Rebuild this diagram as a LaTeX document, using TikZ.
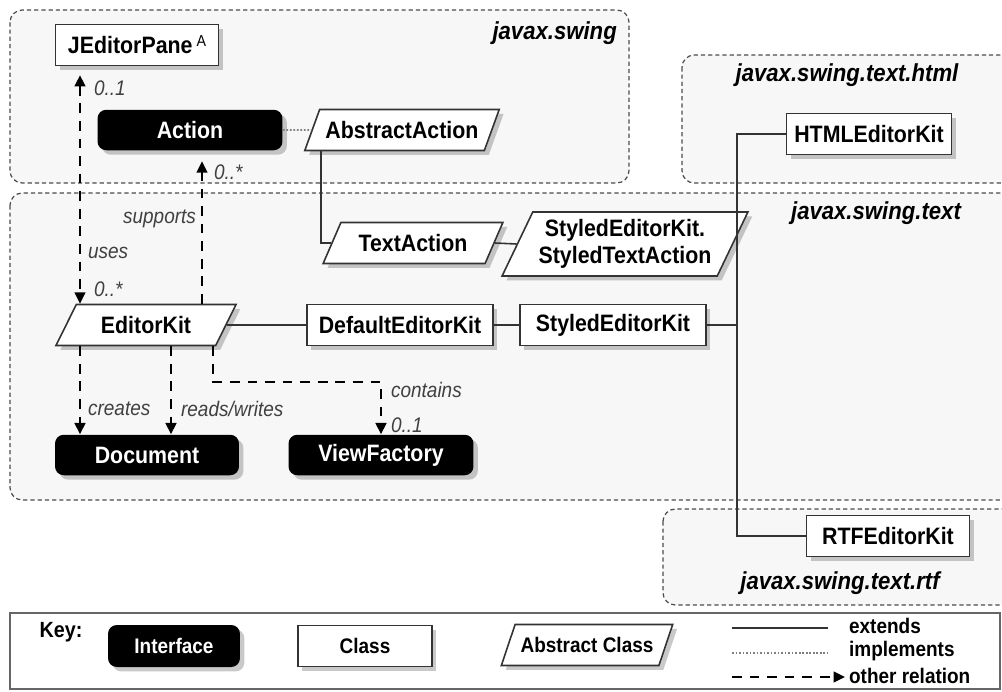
\documentclass[tikz,border=0pt]{standalone}
\usepackage{fontspec}
\setmainfont{Liberation Sans}[FakeStretch=0.9]
\usepackage{tikz}
\usetikzlibrary{
    shapes.geometric,
    arrows.meta,
    shadows
}
\tikzset{
    >={Triangle[length=6.5pt,width=6pt]},
    boxshadow/.style={
        drop shadow={shadow xshift=2.5pt, shadow yshift=-2.5pt,
                     opacity=0.3, fill=black!70}
    },
    iface/.style={
        rectangle, rounded corners=5pt, fill=black, text=white,
        font=\bfseries\fontsize{13.5}{15}\selectfont,
        minimum height=0.81cm, boxshadow
    },
    cls/.style={
        rectangle, draw=black!80, line width=0.9pt, fill=white,
        font=\bfseries\fontsize{13.5}{15}\selectfont,
        minimum height=0.82cm, boxshadow
    },
    abscls/.style={
        trapezium, trapezium left angle=63, trapezium right angle=117,
        trapezium stretches=true, draw=black!80, line width=0.9pt,
        fill=white, font=\bfseries\fontsize{13.5}{15}\selectfont,
        minimum height=0.82cm, align=center, boxshadow
    },
    pkg/.style={
        draw=black!70, line width=0.7pt, dash pattern=on 2.4pt off 1.7pt,
        fill=black!3, rounded corners=7pt
    },
    pkgname/.style={font=\bfseries\itshape\fontsize{14}{16}\selectfont},
    ext/.style={draw=black!80, line width=0.9pt},
    impl/.style={draw=black!50, line width=0.9pt, dash pattern=on 1pt off 1pt},
    rel/.style={draw=black, line width=1.4pt, dash pattern=on 5.5pt off 4.5pt},
    lbl/.style={font=\itshape\fontsize{12}{14}\selectfont, text=black!75, inner sep=1pt},
    keytext/.style={font=\bfseries\fontsize{12}{13}\selectfont, inner sep=1pt}
}

\begin{document}
\begin{tikzpicture}[
    x=0.02cm,
    y=-0.02cm
]

    \path[use as bounding box] (0,0) rectangle (1002,691);
    \clip (0,0) rectangle (1002,691);

    % Packages
    \draw[pkg] (10,10) rectangle (629,183);
    \draw[pkg] (682,55) rectangle (1030,183);
    \draw[pkg] (10,193) rectangle (1030,500);
    \draw[pkg] (663,509) rectangle (1030,605);

    \node[pkgname, anchor=east] (pswing) at (623,33)  {javax.swing};
    \node[pkgname]              (phtml)  at (847,75)  {javax.swing.text.html};
    \node[pkgname]              (ptext)  at (876,213) {javax.swing.text};
    \node[pkgname]              (prtf)   at (840,583) {javax.swing.text.rtf};

    % Classes
    \node[cls, minimum width=3.26cm]   (jep)  at (137,45)  {JEditorPane\,\raisebox{4pt}{\mdseries\fontsize{9}{9}\selectfont A}};
    \node[iface, minimum width=3.7cm]  (act)  at (190,130) {Action};
    \node[abscls, minimum width=3.62cm] (aa)  at (402,130) {AbstractAction};
    \node[cls, minimum width=3.3cm]    (html) at (869,134) {HTMLEditorKit};
    \node[abscls, minimum width=3.6cm] (ta)   at (413,243) {TextAction};
    \node[abscls, minimum width=4.28cm, minimum height=1.28cm]
                                       (sta)  at (625,244) {StyledEditorKit.\\StyledTextAction};
    \node[abscls, minimum width=3.62cm] (ek)  at (146,325) {EditorKit};
    \node[cls, minimum width=3.72cm]   (dek)  at (400,325) {DefaultEditorKit};
    \node[cls, minimum width=3.72cm]   (sek)  at (613,325) {StyledEditorKit};
    \node[iface, minimum width=3.68cm] (doc)  at (147,455) {Document};
    \node[iface, minimum width=3.7cm]  (vf)   at (381,455) {ViewFactory};
    \node[cls, minimum width=3.26cm]   (rtf)  at (888,536) {RTFEditorKit};

    % Inheritance
    \coordinate (ax) at (321,0);
    \coordinate (vx) at (737,0);
    \draw[impl] (act.east) -- (aa.west);
    \draw[ext] (aa.south -| ax) |- (ta.west);
    \draw[ext] (ta.east) -- (sta.west);
    \draw[ext] (ek.east) -- (dek.west);
    \draw[ext] (dek.east) -- (sek.west);
    \draw[ext] (sek.east) -- (sek.east -| vx);
    \draw[ext] (html.west) -- (html.west -| vx) -- (rtf.west -| vx) -- (rtf.west);

    % Other relations
    \coordinate (ux) at (80,0);
    \coordinate (sx) at (202,0);
    \coordinate (rx) at (171,0);
    \coordinate (cbend) at (213,382);
    \draw[rel, <->, shorten <=5pt] (jep.south -| ux) -- (ek.north -| ux);
    \draw[rel, ->, shorten >=6pt] (ek.north -| sx) -- (act.south -| sx);
    \draw[rel, ->] (ek.south -| ux) -- (doc.north -| ux);
    \draw[rel, ->] (ek.south -| rx) -- (doc.north -| rx);
    \draw[rel, ->] (ek.south -| cbend) -- (cbend) -| (vf.north);

    \node[lbl, anchor=west] (m1) at (92,88)  {0..1};
    \node[lbl, anchor=west] (m2) at (212,172) {0..*};
    \node[lbl, anchor=east] (l1) at (198,219) {supports};
    \node[lbl, anchor=west] (l2) at (86,253)  {uses};
    \node[lbl, anchor=west] (m3) at (92,289)  {0..*};
    \node[lbl, anchor=west] (l3) at (86,409)  {creates};
    \node[lbl, anchor=west] (l4) at (179,409) {reads/writes};
    \node[lbl, anchor=west] (l5) at (389,390) {contains};
    \node[lbl, anchor=west] (m4) at (389,425) {0..1};

    % Key
    \draw[black!60, line width=0.9pt] (10,613) rectangle (1000,689);
    \node[keytext, font=\bfseries\fontsize{12.5}{13}\selectfont] (key) at (61,632) {Key:};
    \node[iface, minimum width=2.64cm, minimum height=0.84cm,
          font=\bfseries\fontsize{12}{13}\selectfont] (kif) at (174,646) {Interface};
    \node[cls, minimum width=2.68cm,
          font=\bfseries\fontsize{12}{13}\selectfont] (kcl) at (365,646) {Class};
    \node[abscls, minimum width=3.46cm,
          font=\bfseries\fontsize{12}{13}\selectfont] (kab) at (587,645) {Abstract Class};

    \coordinate (k1a) at (732,628);
    \coordinate (k1b) at (828,628);
    \coordinate (k2a) at (732,653);
    \coordinate (k2b) at (828,653);
    \coordinate (k3a) at (732,677);
    \coordinate (k3b) at (845,677);
    \draw[ext] (k1a) -- (k1b);
    \draw[impl] (k2a) -- (k2b);
    \draw[rel, ->] (k3a) -- (k3b);
    \node[keytext, anchor=west] (kext) at (847,626) {extends};
    \node[keytext, anchor=west] (kimp) at (847,651) {implements};
    \node[keytext, anchor=west] (koth) at (847,676) {other relation};

\end{tikzpicture}
\end{document}
